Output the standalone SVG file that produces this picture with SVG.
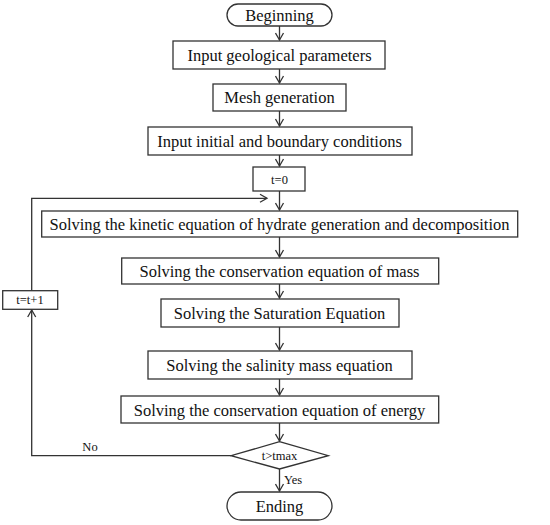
<svg xmlns="http://www.w3.org/2000/svg" width="550" height="525" viewBox="0 0 550 525">
<style>
.b{fill:#fff;stroke:#333;stroke-width:1.3}
.t{font-family:"Liberation Serif","Times New Roman",serif;font-size:16.5px;fill:#111;text-anchor:middle}
.s{font-family:"Liberation Serif","Times New Roman",serif;font-size:12.5px;fill:#111;text-anchor:middle}
.c{fill:none;stroke:#333;stroke-width:1.3}
</style>
<defs>
<marker id="a" markerWidth="10" markerHeight="10" refX="8" refY="5" orient="auto" markerUnits="userSpaceOnUse">
<path d="M1,1 L8,5 L1,9" fill="none" stroke="#333" stroke-width="1.3"/>
</marker>
</defs>
<rect width="550" height="525" fill="#fff"/>
<g id="connectors">
<path class="c" d="M279.5,26 V40" marker-end="url(#a)"/>
<path class="c" d="M279.5,69 V83" marker-end="url(#a)"/>
<path class="c" d="M279.5,111 V126" marker-end="url(#a)"/>
<path class="c" d="M279.5,155 V166" marker-end="url(#a)"/>
<path class="c" d="M279.5,191 V210" marker-end="url(#a)"/>
<path class="c" d="M279.5,237 V257" marker-end="url(#a)"/>
<path class="c" d="M279.5,284 V298" marker-end="url(#a)"/>
<path class="c" d="M279.5,327 V350" marker-end="url(#a)"/>
<path class="c" d="M279.5,379 V395" marker-end="url(#a)"/>
<path class="c" d="M279.5,423 V441" marker-end="url(#a)"/>
<path class="c" d="M279.5,469 V491" marker-end="url(#a)"/>
<path class="c" d="M231,455.7 H31.7 V310" marker-end="url(#a)"/>
<path class="c" d="M31.7,290.7 V198.3 H267" marker-end="url(#a)"/>
<text class="s" x="90" y="451">No</text>
<text class="s" x="293" y="484">Yes</text>
</g>
<g id="beginning"><rect class="b" x="227" y="4" width="105" height="22" rx="11"/><text class="t" x="279.5" y="21">Beginning</text></g>
<g id="geo"><rect class="b" x="173" y="41" width="212" height="28"/><text class="t" x="279.5" y="61">Input geological parameters</text></g>
<g id="mesh"><rect class="b" x="213" y="84" width="133" height="27"/><text class="t" x="279.5" y="103">Mesh generation</text></g>
<g id="init"><rect class="b" x="148" y="127" width="264" height="28"/><text class="t" x="279.5" y="147">Input initial and boundary conditions</text></g>
<g id="t0"><rect class="b" x="253" y="167" width="52" height="24"/><text class="s" x="279.5" y="183.5">t=0</text></g>
<g id="kinetic"><rect class="b" x="41.7" y="211" width="476" height="26"/><text class="t" x="279.5" y="230">Solving the kinetic equation of hydrate generation and decomposition</text></g>
<g id="mass"><rect class="b" x="121.7" y="258" width="317" height="26"/><text class="t" x="279.5" y="277">Solving the conservation equation of mass</text></g>
<g id="saturation"><rect class="b" x="161" y="299" width="238" height="28"/><text class="t" x="279.5" y="319">Solving the Saturation Equation</text></g>
<g id="tinc"><rect class="b" x="2.7" y="290.7" width="55" height="18.6"/><text class="s" x="30" y="304">t=t+1</text></g>
<g id="salinity"><rect class="b" x="148" y="351" width="264" height="28"/><text class="t" x="279.5" y="371">Solving the salinity mass equation</text></g>
<g id="energy"><rect class="b" x="121" y="396" width="317.7" height="27"/><text class="t" x="279.5" y="415.5">Solving the conservation equation of energy</text></g>
<g id="decision"><polygon class="b" points="279.5,441.7 328.3,455.7 279.5,469 231,455.7"/><text class="s" x="279.5" y="460">t&gt;tmax</text></g>
<g id="ending"><rect class="b" x="227" y="492" width="105" height="28" rx="14"/><text class="t" x="279.5" y="512">Ending</text></g>
</svg>
